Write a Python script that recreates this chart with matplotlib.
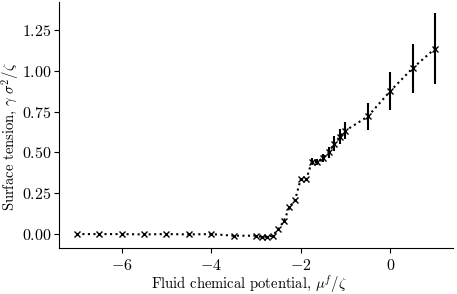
import numpy as np
import matplotlib
matplotlib.use("Agg")
import matplotlib.pyplot as plt

plt.rcParams['font.family'] = 'serif'
plt.rcParams['font.serif'] = ['cmr10']
plt.rcParams['mathtext.fontset'] = 'cm'
plt.rcParams['axes.formatter.use_mathtext'] = True
plt.rcParams['font.size'] = 11.5
plt.rcParams['axes.labelsize'] = 10.5

# fluid chemical potential and surface tension
mu = [-7.0, -6.5, -6.0, -5.5, -5.0, -4.5, -4.0, -3.5, -3.0, -2.875, -2.75,
      -2.625, -2.5, -2.375, -2.25, -2.125, -2.0, -1.875, -1.75, -1.625, -1.5,
      -1.375, -1.25, -1.125, -1.0, -0.5, 0.0, 0.5, 1.0]
gamma = [0.0, 0.0, 0.0, -0.002, 0.0, -0.002, 0.0, -0.01, -0.01, -0.018, -0.015,
         -0.01, 0.03, 0.08, 0.165, 0.21, 0.335, 0.335, 0.443, 0.44, 0.468,
         0.50, 0.553, 0.596, 0.633, 0.72, 0.875, 1.015, 1.135]
gamma_err = [0.0, 0.0, 0.0, 0.0, 0.0, 0.0, 0.0, 0.0, 0.0, 0.0, 0.0,
             0.0, 0.003, 0.004, 0.005, 0.006, 0.01, 0.01, 0.02, 0.02, 0.025,
             0.035, 0.045, 0.045, 0.05, 0.08, 0.115, 0.15, 0.215]

fig = plt.figure(figsize=(4.57, 2.94), dpi=100)
ax = fig.add_axes([0.129, 0.156, 0.862, 0.837])

ax.errorbar(mu, gamma, yerr=gamma_err, color='k', ls=':', lw=1.5,
            marker='x', ms=4, mew=1.0, elinewidth=1.5, capsize=0)

ax.set_xlim(-7.4, 1.4)
ax.set_ylim(-0.086, 1.42)
ax.set_xticks([-6, -4, -2, 0])
ax.set_yticks([0.0, 0.25, 0.5, 0.75, 1.0, 1.25])
ax.yaxis.set_major_formatter(matplotlib.ticker.FormatStrFormatter('$%.2f$'))
ax.tick_params(axis='y', pad=2)
ax.spines['top'].set_visible(False)
ax.spines['right'].set_visible(False)

ax.set_xlabel(r'Fluid chemical potential, $\mu^f/\zeta$')
ax.set_ylabel(r'Surface tension, $\gamma\ \sigma^2/\zeta$')
ax.xaxis.set_label_coords(0.482, -0.102)
ax.yaxis.set_label_coords(-0.097, 0.455)

fig.savefig('out.png', dpi=100)
